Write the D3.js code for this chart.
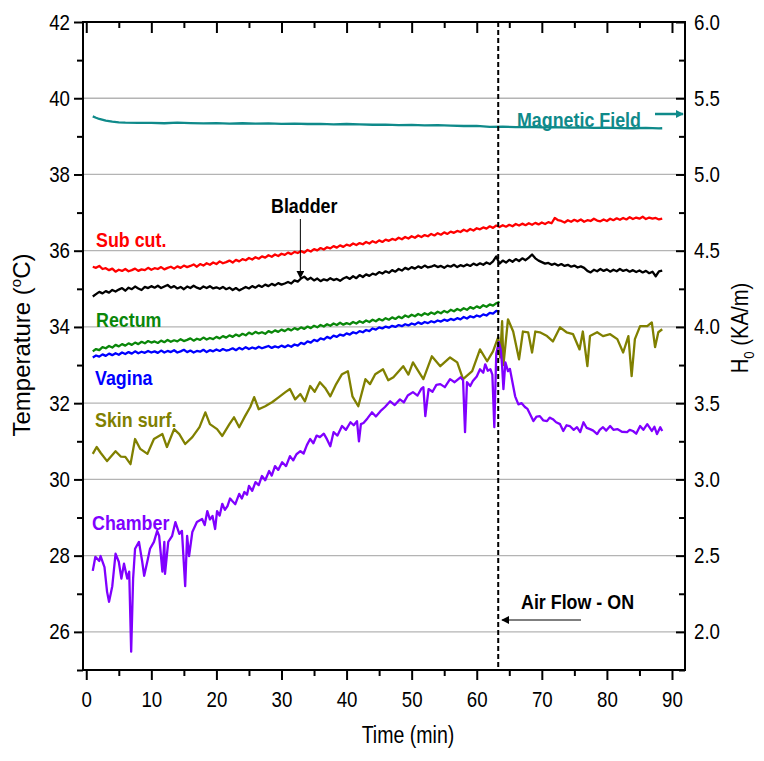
<!DOCTYPE html>
<html>
<head>
<meta charset="utf-8">
<script src="https://cdn.jsdelivr.net/npm/d3@7"></script>
<style>
  body { margin: 0; background: #fff; }
  svg { display: block; }
  text { font-family: "Liberation Sans", Arial, Helvetica, sans-serif; }
</style>
</head>
<body>
<svg id="chart" width="764" height="761"></svg>
<script>
// ---------------- DATA ----------------
const leftTicks = [26, 28, 30, 32, 34, 36, 38, 40, 42];
const rightTicks = [2.0, 2.5, 3.0, 3.5, 4.0, 4.5, 5.0, 5.5, 6.0];
const timeTicks = [0, 10, 20, 30, 40, 50, 60, 70, 80, 90];
const airFlowTime = 63.3;

// Sub cut. (°C), sampled every 0.5 min from 1 to 88.5
const subCut = [
  35.58,35.55,35.60,35.52,35.54,35.49,35.53,35.45,35.50,35.47,35.52,35.46,35.49,35.53,35.47,35.51,35.49,35.55,35.50,35.54,
  35.52,35.57,35.51,35.55,35.58,35.53,35.59,35.55,35.61,35.57,35.60,35.64,35.58,35.65,35.61,35.67,35.63,35.69,35.65,35.72,
  35.67,35.70,35.74,35.69,35.76,35.72,35.78,35.75,35.81,35.77,35.83,35.79,35.85,35.82,35.88,35.84,35.90,35.86,35.92,35.89,
  35.95,35.91,35.97,35.94,35.99,35.95,36.02,35.98,36.04,36.01,36.07,36.03,36.09,36.06,36.12,36.08,36.14,36.10,36.16,36.13,
  36.19,36.15,36.20,36.17,36.23,36.19,36.25,36.21,36.27,36.23,36.29,36.26,36.31,36.28,36.34,36.30,36.36,36.32,36.38,36.34,
  36.40,36.36,36.41,36.38,36.44,36.40,36.46,36.42,36.48,36.44,36.50,36.47,36.52,36.49,36.55,36.51,36.57,36.53,36.59,36.56,
  36.61,36.58,36.64,36.60,36.66,36.62,36.67,36.63,36.68,36.64,36.70,36.66,36.71,36.67,36.72,36.68,36.73,36.69,36.74,36.70,
  36.75,36.72,36.86,36.80,36.78,36.74,36.80,36.76,36.81,36.77,36.82,36.76,36.80,36.78,36.84,36.79,36.77,36.82,36.78,36.84,
  36.80,36.85,36.81,36.86,36.82,36.88,36.83,36.87,36.84,36.89,36.83,36.87,36.84,36.86,36.82,36.84];

// Bladder (°C), sampled every 0.5 min from 1 to 88.5
const bladder = [
  34.80,34.86,34.92,34.88,34.94,34.90,34.97,34.93,34.98,35.02,34.95,35.03,34.99,35.06,35.01,34.97,35.05,35.02,35.07,35.03,
  35.08,35.02,35.06,35.10,35.03,35.07,35.01,35.05,34.99,35.06,35.02,35.08,35.03,35.00,35.06,35.02,35.07,35.01,35.04,35.00,
  35.05,34.99,35.03,34.97,35.02,34.96,35.00,35.05,35.01,35.07,35.03,35.09,35.05,35.11,35.07,35.13,35.09,35.15,35.11,35.14,
  35.18,35.14,35.22,35.19,35.27,35.32,35.24,35.29,35.22,35.27,35.20,35.25,35.22,35.28,35.23,35.26,35.21,35.27,35.31,35.26,
  35.33,35.28,35.36,35.31,35.38,35.34,35.40,35.37,35.44,35.40,35.46,35.42,35.49,35.45,35.52,35.48,35.55,35.51,35.57,35.53,
  35.59,35.55,35.61,35.56,35.58,35.62,35.57,35.60,35.55,35.61,35.58,35.63,35.57,35.62,35.59,35.64,35.60,35.66,35.62,35.67,
  35.63,35.69,35.65,35.72,35.85,35.66,35.74,35.69,35.76,35.71,35.78,35.73,35.80,35.75,35.82,35.90,35.80,35.74,35.70,35.66,
  35.68,35.63,35.66,35.61,35.65,35.60,35.63,35.58,35.61,35.56,35.59,35.55,35.47,35.43,35.50,35.46,35.52,35.47,35.51,35.45,
  35.50,35.46,35.52,35.47,35.50,35.45,35.49,35.44,35.48,35.43,35.47,35.41,35.45,35.33,35.46,35.48];

// Rectum and Vagina (°C), sampled every 0.5 min from 1 to 63.5
const rectum = [
  33.36,33.42,33.39,33.47,33.44,33.50,33.46,33.53,33.49,33.55,33.51,33.57,33.53,33.59,33.55,33.61,33.57,33.63,33.59,33.62,
  33.58,33.64,33.60,33.66,33.61,33.65,33.62,33.68,33.63,33.66,33.70,33.64,33.69,33.66,33.72,33.67,33.71,33.68,33.74,33.70,
  33.76,33.72,33.78,33.74,33.80,33.76,33.82,33.78,33.85,33.81,33.87,33.83,33.86,33.82,33.89,33.85,33.91,33.87,33.93,33.89,
  33.95,33.91,33.97,33.93,33.99,33.95,34.01,33.97,34.03,33.99,34.05,34.01,34.07,34.03,34.09,34.05,34.11,34.06,34.10,34.07,
  34.13,34.09,34.15,34.11,34.17,34.13,34.19,34.15,34.21,34.17,34.23,34.19,34.25,34.21,34.27,34.23,34.30,34.26,34.32,34.28,
  34.34,34.30,34.36,34.32,34.38,34.34,34.40,34.36,34.42,34.38,34.45,34.41,34.47,34.43,34.49,34.45,34.52,34.48,34.54,34.50,
  34.57,34.53,34.59,34.56,34.62,34.66];
const vagina = [
  33.20,33.25,33.22,33.28,33.24,33.30,33.26,33.31,33.27,33.33,33.29,33.34,33.30,33.36,33.31,33.35,33.32,33.37,33.33,33.36,
  33.32,33.38,33.33,33.37,33.34,33.39,33.33,33.36,33.40,33.34,33.38,33.33,33.37,33.35,33.40,33.34,33.39,33.36,33.41,33.37,
  33.42,33.38,33.40,33.44,33.39,33.45,33.41,33.47,33.42,33.46,33.43,33.48,33.44,33.47,33.50,33.45,33.49,33.46,33.51,33.47,
  33.52,33.48,33.54,33.51,33.58,33.55,33.62,33.59,33.66,33.63,33.70,33.67,33.74,33.70,33.77,33.74,33.80,33.77,33.83,33.80,
  33.86,33.83,33.89,33.86,33.92,33.89,33.96,33.93,33.99,33.96,34.01,33.98,34.03,34.00,34.05,34.02,34.07,34.04,34.09,34.06,
  34.12,34.08,34.13,34.10,34.15,34.12,34.17,34.14,34.19,34.16,34.21,34.18,34.23,34.20,34.26,34.22,34.28,34.25,34.30,34.27,
  34.33,34.30,34.37,34.35,34.42,34.40];

// Skin surf. (°C): time (min) and value
const skinTime = [1,1.6,2.2,3.2,4.5,5.3,6,6.8,7.5,8.3,9.4,10.4,11.7,12.4,13.5,14.3,15.2,16.3,17.4,18.3,19,20.1,20.9,22,22.7,23.5,24.4,25.2,25.8,26.5,
  27.5,28.6,29.6,30.6,31.3,32.1,32.9,33.6,34.4,35.1,35.9,36.7,37.5,38.4,39.3,40.2,40.9,41.8,42.9,43.6,44.4,45.6,46.4,47.2,48.7,49.5,50.2,51,51.8,53.1,
  54.4,55.9,57,57.9,59.3,60.5,61.6,62.5,63.3,63.6,63.9,64.1,64.8,65.6,66.5,67.1,67.9,68.5,69,69.7,70.8,71.7,72.8,73.8,74.8,75.8,76.3,77,77.4,78.5,
  79.4,80.5,81.6,82.5,83.3,83.8,84.3,85.1,86.2,86.9,87.4,87.9,88.5];
const skinTemp = [30.67,30.85,30.7,30.48,30.74,30.6,30.59,30.4,31.06,30.8,30.67,31.06,31.19,30.85,31.32,31.19,30.93,31.11,31.37,31.76,31.45,31.32,31.14,31.45,31.63,31.37,31.66,31.9,32.16,31.84,
  31.92,32.03,32.16,32.29,32.37,32.1,32.24,32.05,32.45,32.3,32.55,32.4,32.18,32.5,32.76,32.84,32.18,31.92,32.63,32.5,32.76,32.89,32.6,32.68,32.97,32.75,33.07,32.85,32.63,33.23,
  32.97,33.2,33.07,32.63,32.84,33.41,33.1,33.36,33.73,33.2,34.15,33.0,34.2,33.88,33.15,33.88,33.86,33.33,33.88,33.86,33.76,33.62,33.99,33.86,33.81,33.41,33.88,32.97,33.76,33.86,
  33.76,33.81,33.68,33.33,33.76,32.71,33.68,34.02,34.02,34.12,33.47,33.86,33.94];

// Chamber (°C): time (min) and value
const chamberTime = [1,1.4,2,2.2,2.8,3.2,3.5,4,4.5,5,5.4,5.8,6.3,6.6,6.9,7.2,7.5,8.1,8.6,8.9,9.4,9.8,10.4,10.9,11.2,11.7,12,12.1,12.6,13.2,
  13.7,14.3,14.7,15.2,15.5,15.8,16.3,17,17.8,18.2,18.6,19,19.4,19.8,20.1,20.5,20.9,21.3,21.7,22.1,22.4,22.9,23.5,23.9,24.3,24.7,25,25.5,26,26.5,
  27,27.5,28.1,28.5,29,29.5,30.1,30.7,31.3,31.8,32.3,32.9,33.4,33.9,34.4,34.9,35.4,35.9,36.5,37,37.5,38,38.6,39.3,39.9,40.6,41.1,41.6,41.9,42.2,
  42.6,43.2,43.9,44.5,45.2,45.9,46.7,47.4,48.2,48.8,49.4,50.2,50.9,51.5,51.8,52.1,52.6,53.2,53.8,54.4,55.1,55.9,56.6,57.5,57.9,58.2,58.5,59,59.4,60,
  60.5,61,61.3,61.7,62.1,62.4,62.7,63,63.4,63.7,63.9,64.1,64.4,64.8,65.1,65.4,65.9,66.4,66.9,67.4,67.8,68.2,68.7,69.2,69.7,70.2,70.8,71.2,71.7,72.2,
  72.8,73.3,73.8,74.3,74.9,75.4,75.9,76.4,76.9,77.4,77.9,78.5,78.9,79.4,79.9,80.5,81,81.6,82.3,83.1,83.5,84,84.5,85.1,85.6,86.2,86.6,86.9,87.3,87.7,
  88.2,88.5];
const chamberTemp = [27.6,27.97,27.86,27.99,27.7,27.05,26.79,27.2,28.05,27.84,27.4,27.79,27.4,27.58,25.48,27.4,28.18,28.36,27.84,27.47,27.86,28.18,28.36,28.65,28.52,27.58,28.36,27.52,28.36,28.52,
  28.88,28.57,28.65,27.2,28.52,27.99,28.62,28.88,28.96,28.8,29.17,28.95,29.04,28.7,29.17,29.05,29.36,29.2,29.3,29.5,29.44,29.35,29.62,29.5,29.67,29.6,29.83,29.7,29.93,29.85,
  30.09,29.98,30.22,30.1,30.35,30.25,30.45,30.35,30.61,30.5,30.66,30.74,30.68,30.9,31.06,30.95,31.15,31.11,31.2,31.05,30.87,31.24,31.15,31.4,31.3,31.5,31.42,31.53,31.0,31.45,
  31.48,31.6,31.76,31.65,31.79,31.9,32.05,31.95,32.1,32.02,32.2,32.29,32.2,32.38,32.42,31.66,32.37,32.3,32.48,32.5,32.42,32.63,32.55,32.68,32.6,31.24,32.55,32.45,32.58,32.7,
  32.89,32.8,33.02,32.85,32.89,32.75,31.37,33.3,33.6,33.4,32.97,32.37,33.07,32.84,32.9,32.63,32.18,31.97,32.0,31.9,31.85,31.71,31.53,31.65,31.66,31.55,31.53,31.62,31.58,31.5,
  31.45,31.27,31.42,31.4,31.3,31.37,31.24,31.5,31.35,31.32,31.28,31.19,31.3,31.37,31.28,31.4,31.3,31.32,31.25,31.24,31.3,31.27,31.2,31.4,31.3,31.45,31.35,31.27,31.38,31.19,
  31.37,31.27];

// Magnetic field H0 (KA/m), right axis
const fieldTime = [1,1.5,2,3,4,5,6,8,10,12,14,16,18,20,22,24,26,28,30,32,34,36,38,40,42,44,46,48,50,52,54,56,58,60,62,64,66,68,70,72,74,76,78,80,82,84,86,88,88.5];
const fieldH = [5.381,5.372,5.364,5.353,5.346,5.342,5.340,5.338,5.339,5.336,5.340,5.337,5.335,5.337,5.334,5.336,5.333,5.335,5.332,5.334,5.331,5.332,5.329,5.331,
  5.328,5.326,5.327,5.324,5.325,5.322,5.323,5.320,5.318,5.319,5.312,5.313,5.311,5.312,5.309,5.310,5.307,5.309,5.306,5.307,5.304,5.303,5.305,5.302,5.303];

// ---------------- CHART ----------------
const svg = d3.select("#chart");
const L = 83, R = 685, T = 22, B = 670;
const x = d3.scaleLinear().domain([-0.5, 92]).range([L, R]);
const y = d3.scaleLinear().domain([25, 42]).range([B, T]);
const yR = d3.scaleLinear().domain([1.75, 6.0]).range([B, T]);

const NARROW = 0.85;
function condense(sel, f) {
  sel.each(function () {
    const w = this.getComputedTextLength();
    if (w > 0) d3.select(this).attr("textLength", w * f).attr("lengthAdjust", "spacingAndGlyphs");
  });
}

// grid lines
svg.append("g").selectAll("line").data(leftTicks.filter(d => d < 42)).join("line")
  .attr("x1", L).attr("x2", R).attr("y1", d => y(d)).attr("y2", d => y(d))
  .attr("stroke", "#b4b4b4").attr("stroke-width", 1.3);

// series
const halfMinutes = d3.range(1, 89, 0.5);
const halfMinutesShort = d3.range(1, 64, 0.5);
const line = d3.line().x(d => x(d[0])).y(d => y(d[1]));
const lineR = d3.line().x(d => x(d[0])).y(d => yR(d[1]));

const series = [
  {t: halfMinutes, v: subCut, color: "#ff0000"},
  {t: halfMinutes, v: bladder, color: "#000000"},
  {t: halfMinutesShort, v: rectum, color: "#0a870a"},
  {t: halfMinutesShort, v: vagina, color: "#0000ff"},
  {t: skinTime, v: skinTemp, color: "#808000"},
  {t: chamberTime, v: chamberTemp, color: "#8000ff"}
];
series.forEach(s => {
  svg.append("path").datum(s.v.map((v, i) => [s.t[i], v]))
    .attr("d", line).attr("fill", "none").attr("stroke", s.color)
    .attr("stroke-width", 2.3).attr("stroke-linejoin", "round");
});
svg.append("path").datum(fieldTime.map((t, i) => [t, fieldH[i]]))
  .attr("d", lineR).attr("fill", "none").attr("stroke", "#0f8a8a")
  .attr("stroke-width", 2.3).attr("stroke-linejoin", "round");

// dashed air flow line
svg.append("line").attr("x1", x(airFlowTime)).attr("x2", x(airFlowTime)).attr("y1", T).attr("y2", B)
  .attr("stroke", "#000").attr("stroke-width", 2).attr("stroke-dasharray", "5,3");

// axes
function styleAxis(g) {
  g.select(".domain").remove();
  g.selectAll(".tick line").attr("stroke", "#000").attr("stroke-width", 2);
  g.selectAll("text").attr("font-size", 22).attr("fill", "#000").call(condense, NARROW);
}
const leftMinor = [25, 27, 29, 31, 33, 35, 37, 39, 41];
const timeMinor = [5, 15, 25, 35, 45, 55, 65, 75, 85];
const rightMinor = [1.75, 2.25, 2.75, 3.25, 3.75, 4.25, 4.75, 5.25, 5.75];

svg.append("g").attr("transform", `translate(${L},0)`)
  .call(d3.axisLeft(y).tickValues(leftTicks).tickSize(9).tickPadding(4).tickFormat(d3.format("d"))).call(styleAxis);
svg.append("g").attr("transform", `translate(${L},0)`)
  .call(d3.axisLeft(y).tickValues(leftMinor).tickSize(6).tickFormat("")).call(styleAxis);

svg.append("g").attr("transform", `translate(${R},0)`)
  .call(d3.axisRight(yR).tickValues(rightTicks).tickSize(-9).tickPadding(9).tickFormat(d3.format(".1f"))).call(styleAxis);
svg.append("g").attr("transform", `translate(${R},0)`)
  .call(d3.axisRight(yR).tickValues(rightMinor).tickSize(-6).tickFormat("")).call(styleAxis);

svg.append("g").attr("transform", `translate(0,${B})`)
  .call(d3.axisBottom(x).tickValues(timeTicks).tickSize(10).tickPadding(11).tickFormat(d3.format("d"))).call(styleAxis);
svg.append("g").attr("transform", `translate(0,${B})`)
  .call(d3.axisBottom(x).tickValues(timeMinor).tickSize(6).tickFormat("")).call(styleAxis);

svg.append("g").attr("transform", `translate(0,${T})`)
  .call(d3.axisTop(x).tickValues(timeTicks).tickSize(-11).tickFormat("")).call(styleAxis);
svg.append("g").attr("transform", `translate(0,${T})`)
  .call(d3.axisTop(x).tickValues(timeMinor).tickSize(-6).tickFormat("")).call(styleAxis);

// frame
svg.append("rect").attr("x", L).attr("y", T).attr("width", R - L).attr("height", B - T)
  .attr("fill", "none").attr("stroke", "#000").attr("stroke-width", 2);

// axis titles
svg.append("text").attr("x", 408).attr("y", 743).attr("text-anchor", "middle")
  .attr("font-size", 23).text("Time (min)").call(condense, NARROW);

const yt = svg.append("text").attr("transform", "translate(30,345) rotate(-90)").attr("text-anchor", "middle")
  .attr("font-size", 24);
yt.append("tspan").text("Temperature (");
yt.append("tspan").attr("font-size", 15).attr("dy", -9).text("o");
yt.append("tspan").attr("dy", 9).text("C)");

const rt = svg.append("text").attr("transform", "translate(748,328) rotate(-90) scale(0.88,1)").attr("text-anchor", "middle")
  .attr("font-size", 23);
rt.append("tspan").text("H");
rt.append("tspan").attr("font-size", 15).attr("dy", 6).text("0");
rt.append("tspan").attr("dy", -6).text(" (KA/m)");

// arrowheads
const defs = svg.append("defs");
function marker(id, color) {
  defs.append("marker").attr("id", id).attr("viewBox", "0 0 10 10").attr("refX", 9).attr("refY", 5)
    .attr("markerWidth", 8).attr("markerHeight", 8).attr("markerUnits", "userSpaceOnUse").attr("orient", "auto")
    .append("path").attr("d", "M0,0 L10,5 L0,10 z").attr("fill", color);
}
marker("arrK", "#000");
marker("arrT", "#0f8a8a");

// labels
const labels = [
  {text: "Magnetic Field", x: 517, y: 127, color: "#0f8a8a"},
  {text: "Sub cut.", x: 96, y: 247, color: "#ff0000"},
  {text: "Bladder", x: 271, y: 213, color: "#000000"},
  {text: "Rectum", x: 96, y: 327, color: "#0a870a"},
  {text: "Vagina", x: 95, y: 385, color: "#0000ff"},
  {text: "Skin surf.", x: 95, y: 427, color: "#808000"},
  {text: "Chamber", x: 92, y: 530, color: "#8000ff"},
  {text: "Air Flow - ON", x: 521, y: 609, color: "#000000"}
];
svg.append("g").selectAll("text").data(labels).join("text")
  .attr("x", d => d.x).attr("y", d => d.y).attr("fill", d => d.color)
  .attr("font-size", 21).attr("font-weight", "bold").text(d => d.text)
  .call(condense, NARROW);

// arrows
svg.append("line").attr("x1", 655).attr("y1", 114).attr("x2", 683).attr("y2", 114)
  .attr("stroke", "#0f8a8a").attr("stroke-width", 2.5).attr("marker-end", "url(#arrT)");
svg.append("line").attr("x1", x(32.9)).attr("y1", 219).attr("x2", x(32.9)).attr("y2", 278)
  .attr("stroke", "#000").attr("stroke-width", 1).attr("marker-end", "url(#arrK)");
svg.append("line").attr("x1", 581).attr("y1", 620).attr("x2", 502).attr("y2", 620)
  .attr("stroke", "#000").attr("stroke-width", 1).attr("marker-end", "url(#arrK)");
</script>
</body>
</html>
